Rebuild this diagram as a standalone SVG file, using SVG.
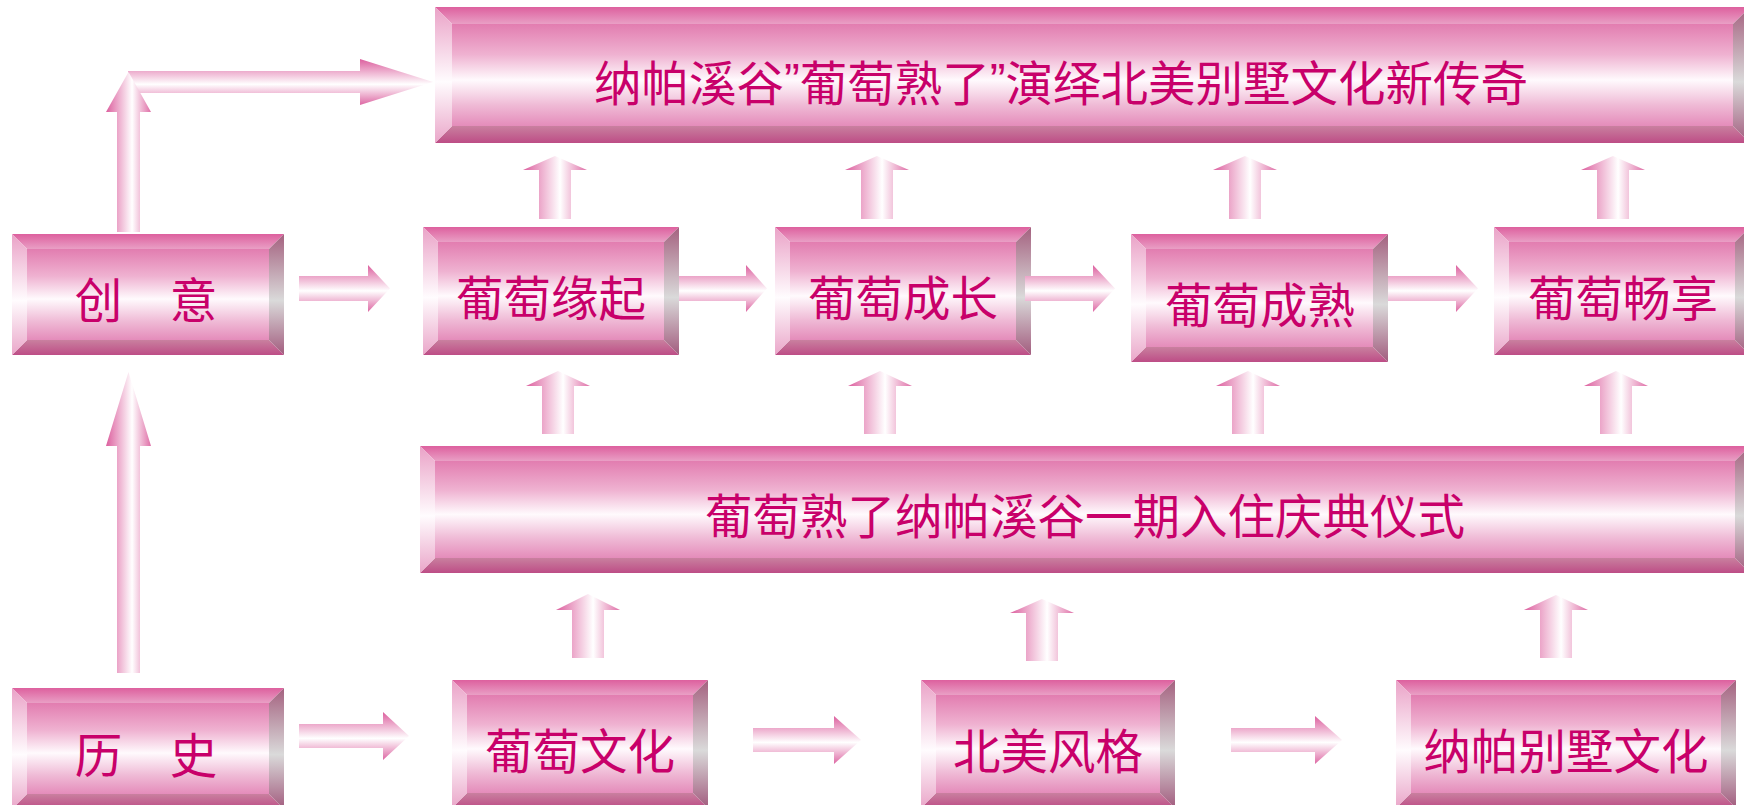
<svg xmlns="http://www.w3.org/2000/svg" width="1744" height="805" viewBox="0 0 1744 805">
<defs>
<linearGradient id="gTop" x1="0" y1="0" x2="0" y2="1"><stop offset="0" stop-color="#dd609e"/><stop offset="1" stop-color="#e99fc5"/></linearGradient>
<linearGradient id="gBot" x1="0" y1="0" x2="0" y2="1"><stop offset="0" stop-color="#c9809f"/><stop offset="1" stop-color="#bd4d86"/></linearGradient>
<linearGradient id="gFace" x1="0" y1="0" x2="0" y2="1"><stop offset="0" stop-color="#e27db0"/><stop offset="0.3" stop-color="#efb2d1"/><stop offset="0.55" stop-color="#fffafd"/><stop offset="0.8" stop-color="#efb9d5"/><stop offset="1" stop-color="#e48cba"/></linearGradient>
<linearGradient id="gLeft" x1="0" y1="0" x2="0" y2="1"><stop offset="0" stop-color="#eaa2c7"/><stop offset="0.55" stop-color="#fffcfe"/><stop offset="1" stop-color="#eaa6c9"/></linearGradient>
<linearGradient id="gRight" x1="0" y1="0" x2="0" y2="1"><stop offset="0" stop-color="#a4617f"/><stop offset="0.55" stop-color="#dadada"/><stop offset="1" stop-color="#a25c7e"/></linearGradient>
<linearGradient id="gH" x1="0" y1="0" x2="0" y2="1"><stop offset="0" stop-color="#dc5f9e"/><stop offset="0.55" stop-color="#ffffff"/><stop offset="1" stop-color="#dd67a3"/></linearGradient>
<linearGradient id="gV" x1="0" y1="0" x2="1" y2="0"><stop offset="0" stop-color="#dc5f9e"/><stop offset="0.58" stop-color="#ffffff"/><stop offset="1" stop-color="#df6fa7"/></linearGradient>
</defs>
<style>
.t{fill:url(#gTop)}.b{fill:url(#gBot)}.f{fill:url(#gFace)}.l{fill:url(#gLeft)}.r{fill:url(#gRight)}
.ah{fill:url(#gH)}.av{fill:url(#gV)}
text{font-family:"Noto Sans CJK SC","Noto Sans",sans-serif;fill:#c8006a;text-anchor:middle;dominant-baseline:central;font-size:47.5px}
.q{font-family:"Liberation Sans",sans-serif}
</style>
<rect width="1744" height="805" fill="#ffffff"/>

<g id="nodes">
<g id="n-title">
<polygon class="t" points="435,7 1750,7 1733,24 452,24"/>
<polygon class="b" points="435,143 1750,143 1733,126 452,126"/>
<polygon class="l" points="435,7 452,24 452,126 435,143"/>
<polygon class="r" points="1750,7 1733,24 1733,126 1750,143"/>
<rect class="f" x="452" y="24" width="1281" height="102"/>
<text x="1061" y="80" font-size="45">纳帕溪谷<tspan class="q">”</tspan>葡萄熟了<tspan class="q">”</tspan>演绎北美别墅文化新传奇</text>
</g>
<g id="n-chuangyi">
<polygon class="t" points="12,234 284,234 269,249 27,249"/>
<polygon class="b" points="12,355 284,355 269,340 27,340"/>
<polygon class="l" points="12,234 27,249 27,340 12,355"/>
<polygon class="r" points="284,234 269,249 269,340 284,355"/>
<rect class="f" x="27" y="249" width="242" height="91"/>
<text x="146" y="297">创　意</text>
</g>
<g id="n-yuanqi">
<polygon class="t" points="423,227 679,227 664,242 438,242"/>
<polygon class="b" points="423,355 679,355 664,340 438,340"/>
<polygon class="l" points="423,227 438,242 438,340 423,355"/>
<polygon class="r" points="679,227 664,242 664,340 679,355"/>
<rect class="f" x="438" y="242" width="226" height="98"/>
<text x="551" y="295">葡萄缘起</text>
</g>
<g id="n-chengzhang">
<polygon class="t" points="775,227 1031,227 1016,242 790,242"/>
<polygon class="b" points="775,355 1031,355 1016,340 790,340"/>
<polygon class="l" points="775,227 790,242 790,340 775,355"/>
<polygon class="r" points="1031,227 1016,242 1016,340 1031,355"/>
<rect class="f" x="790" y="242" width="226" height="98"/>
<text x="903" y="295">葡萄成长</text>
</g>
<g id="n-chengshu">
<polygon class="t" points="1131,234 1388,234 1373,249 1146,249"/>
<polygon class="b" points="1131,362 1388,362 1373,347 1146,347"/>
<polygon class="l" points="1131,234 1146,249 1146,347 1131,362"/>
<polygon class="r" points="1388,234 1373,249 1373,347 1388,362"/>
<rect class="f" x="1146" y="249" width="227" height="98"/>
<text x="1260" y="302">葡萄成熟</text>
</g>
<g id="n-changxiang">
<polygon class="t" points="1494,227 1750,227 1735,242 1509,242"/>
<polygon class="b" points="1494,355 1750,355 1735,340 1509,340"/>
<polygon class="l" points="1494,227 1509,242 1509,340 1494,355"/>
<polygon class="r" points="1750,227 1735,242 1735,340 1750,355"/>
<rect class="f" x="1509" y="242" width="226" height="98"/>
<text x="1623" y="295">葡萄畅享</text>
</g>
<g id="n-qingdian">
<polygon class="t" points="420,446 1750,446 1735,461 435,461"/>
<polygon class="b" points="420,573 1750,573 1735,558 435,558"/>
<polygon class="l" points="420,446 435,461 435,558 420,573"/>
<polygon class="r" points="1750,446 1735,461 1735,558 1750,573"/>
<rect class="f" x="435" y="461" width="1300" height="97"/>
<text x="1085" y="513" font-size="48">葡萄熟了纳帕溪谷一期入住庆典仪式</text>
</g>
<g id="n-lishi">
<polygon class="t" points="12,688 284,688 269,703 27,703"/>
<polygon class="b" points="12,809 284,809 269,794 27,794"/>
<polygon class="l" points="12,688 27,703 27,794 12,809"/>
<polygon class="r" points="284,688 269,703 269,794 284,809"/>
<rect class="f" x="27" y="703" width="242" height="91"/>
<text x="146" y="752">历　史</text>
</g>
<g id="n-wenhua">
<polygon class="t" points="452,680 708,680 693,695 467,695"/>
<polygon class="b" points="452,808 708,808 693,793 467,793"/>
<polygon class="l" points="452,680 467,695 467,793 452,808"/>
<polygon class="r" points="708,680 693,695 693,793 708,808"/>
<rect class="f" x="467" y="695" width="226" height="98"/>
<text x="580" y="748">葡萄文化</text>
</g>
<g id="n-beimei">
<polygon class="t" points="921,680 1175,680 1160,695 936,695"/>
<polygon class="b" points="921,808 1175,808 1160,793 936,793"/>
<polygon class="l" points="921,680 936,695 936,793 921,808"/>
<polygon class="r" points="1175,680 1160,695 1160,793 1175,808"/>
<rect class="f" x="936" y="695" width="224" height="98"/>
<text x="1048" y="748">北美风格</text>
</g>
<g id="n-napa">
<polygon class="t" points="1396,680 1736,680 1721,695 1411,695"/>
<polygon class="b" points="1396,808 1736,808 1721,793 1411,793"/>
<polygon class="l" points="1396,680 1411,695 1411,793 1396,808"/>
<polygon class="r" points="1736,680 1721,695 1721,793 1736,808"/>
<rect class="f" x="1411" y="695" width="310" height="98"/>
<text x="1566" y="748">纳帕别墅文化</text>
</g>
</g>

<g id="connectors">
<path class="ah" d="M128,71 H360 V59 L433,82 L360,105 V93 H128 Z"/>
<path class="av" d="M117,232 V112 H106 L128.5,72 L151,112 H140 V232 Z"/>
<path class="av" d="M117,673 V446 H106 L128.5,372 L151,446 H140 V673 Z"/>
<path class="ah" d="M299,276 H368 V265 L390,288.5 L368,312 V301 H299 Z"/>
<path class="ah" d="M679,276 H746 V265 L767,288.5 L746,312 V301 H679 Z"/>
<path class="ah" d="M1025,276 H1093 V265 L1115,288.5 L1093,312 V301 H1025 Z"/>
<path class="ah" d="M1388,276 H1456 V265 L1478,288.5 L1456,312 V301 H1388 Z"/>
<path class="ah" d="M299,724 H383 V712 L409,736 L383,760 V748 H299 Z"/>
<path class="ah" d="M753,728 H834 V716 L861,740 L834,764 V752 H753 Z"/>
<path class="ah" d="M1231,728 H1315 V716 L1342,740 L1315,764 V752 H1231 Z"/>
<path class="av" d="M539,219 V170 H523 L555,156 L587,170 H571 V219 Z"/>
<path class="av" d="M861,219 V170 H845 L877,156 L909,170 H893 V219 Z"/>
<path class="av" d="M1229,219 V170 H1213 L1245,156 L1277,170 H1261 V219 Z"/>
<path class="av" d="M1597,219 V170 H1581 L1613,156 L1645,170 H1629 V219 Z"/>
<path class="av" d="M542,434 V386 H526 L558,371 L590,386 H574 V434 Z"/>
<path class="av" d="M864,434 V386 H848 L880,371 L912,386 H896 V434 Z"/>
<path class="av" d="M1232,434 V386 H1216 L1248,371 L1280,386 H1264 V434 Z"/>
<path class="av" d="M1600,434 V386 H1584 L1616,371 L1648,386 H1632 V434 Z"/>
<path class="av" d="M572,658 V610 H556 L588,594 L620,610 H604 V658 Z"/>
<path class="av" d="M1026,661 V613 H1010 L1042,599 L1074,613 H1058 V661 Z"/>
<path class="av" d="M1540,658 V610 H1524 L1556,595 L1588,610 H1572 V658 Z"/>
</g>
</svg>
